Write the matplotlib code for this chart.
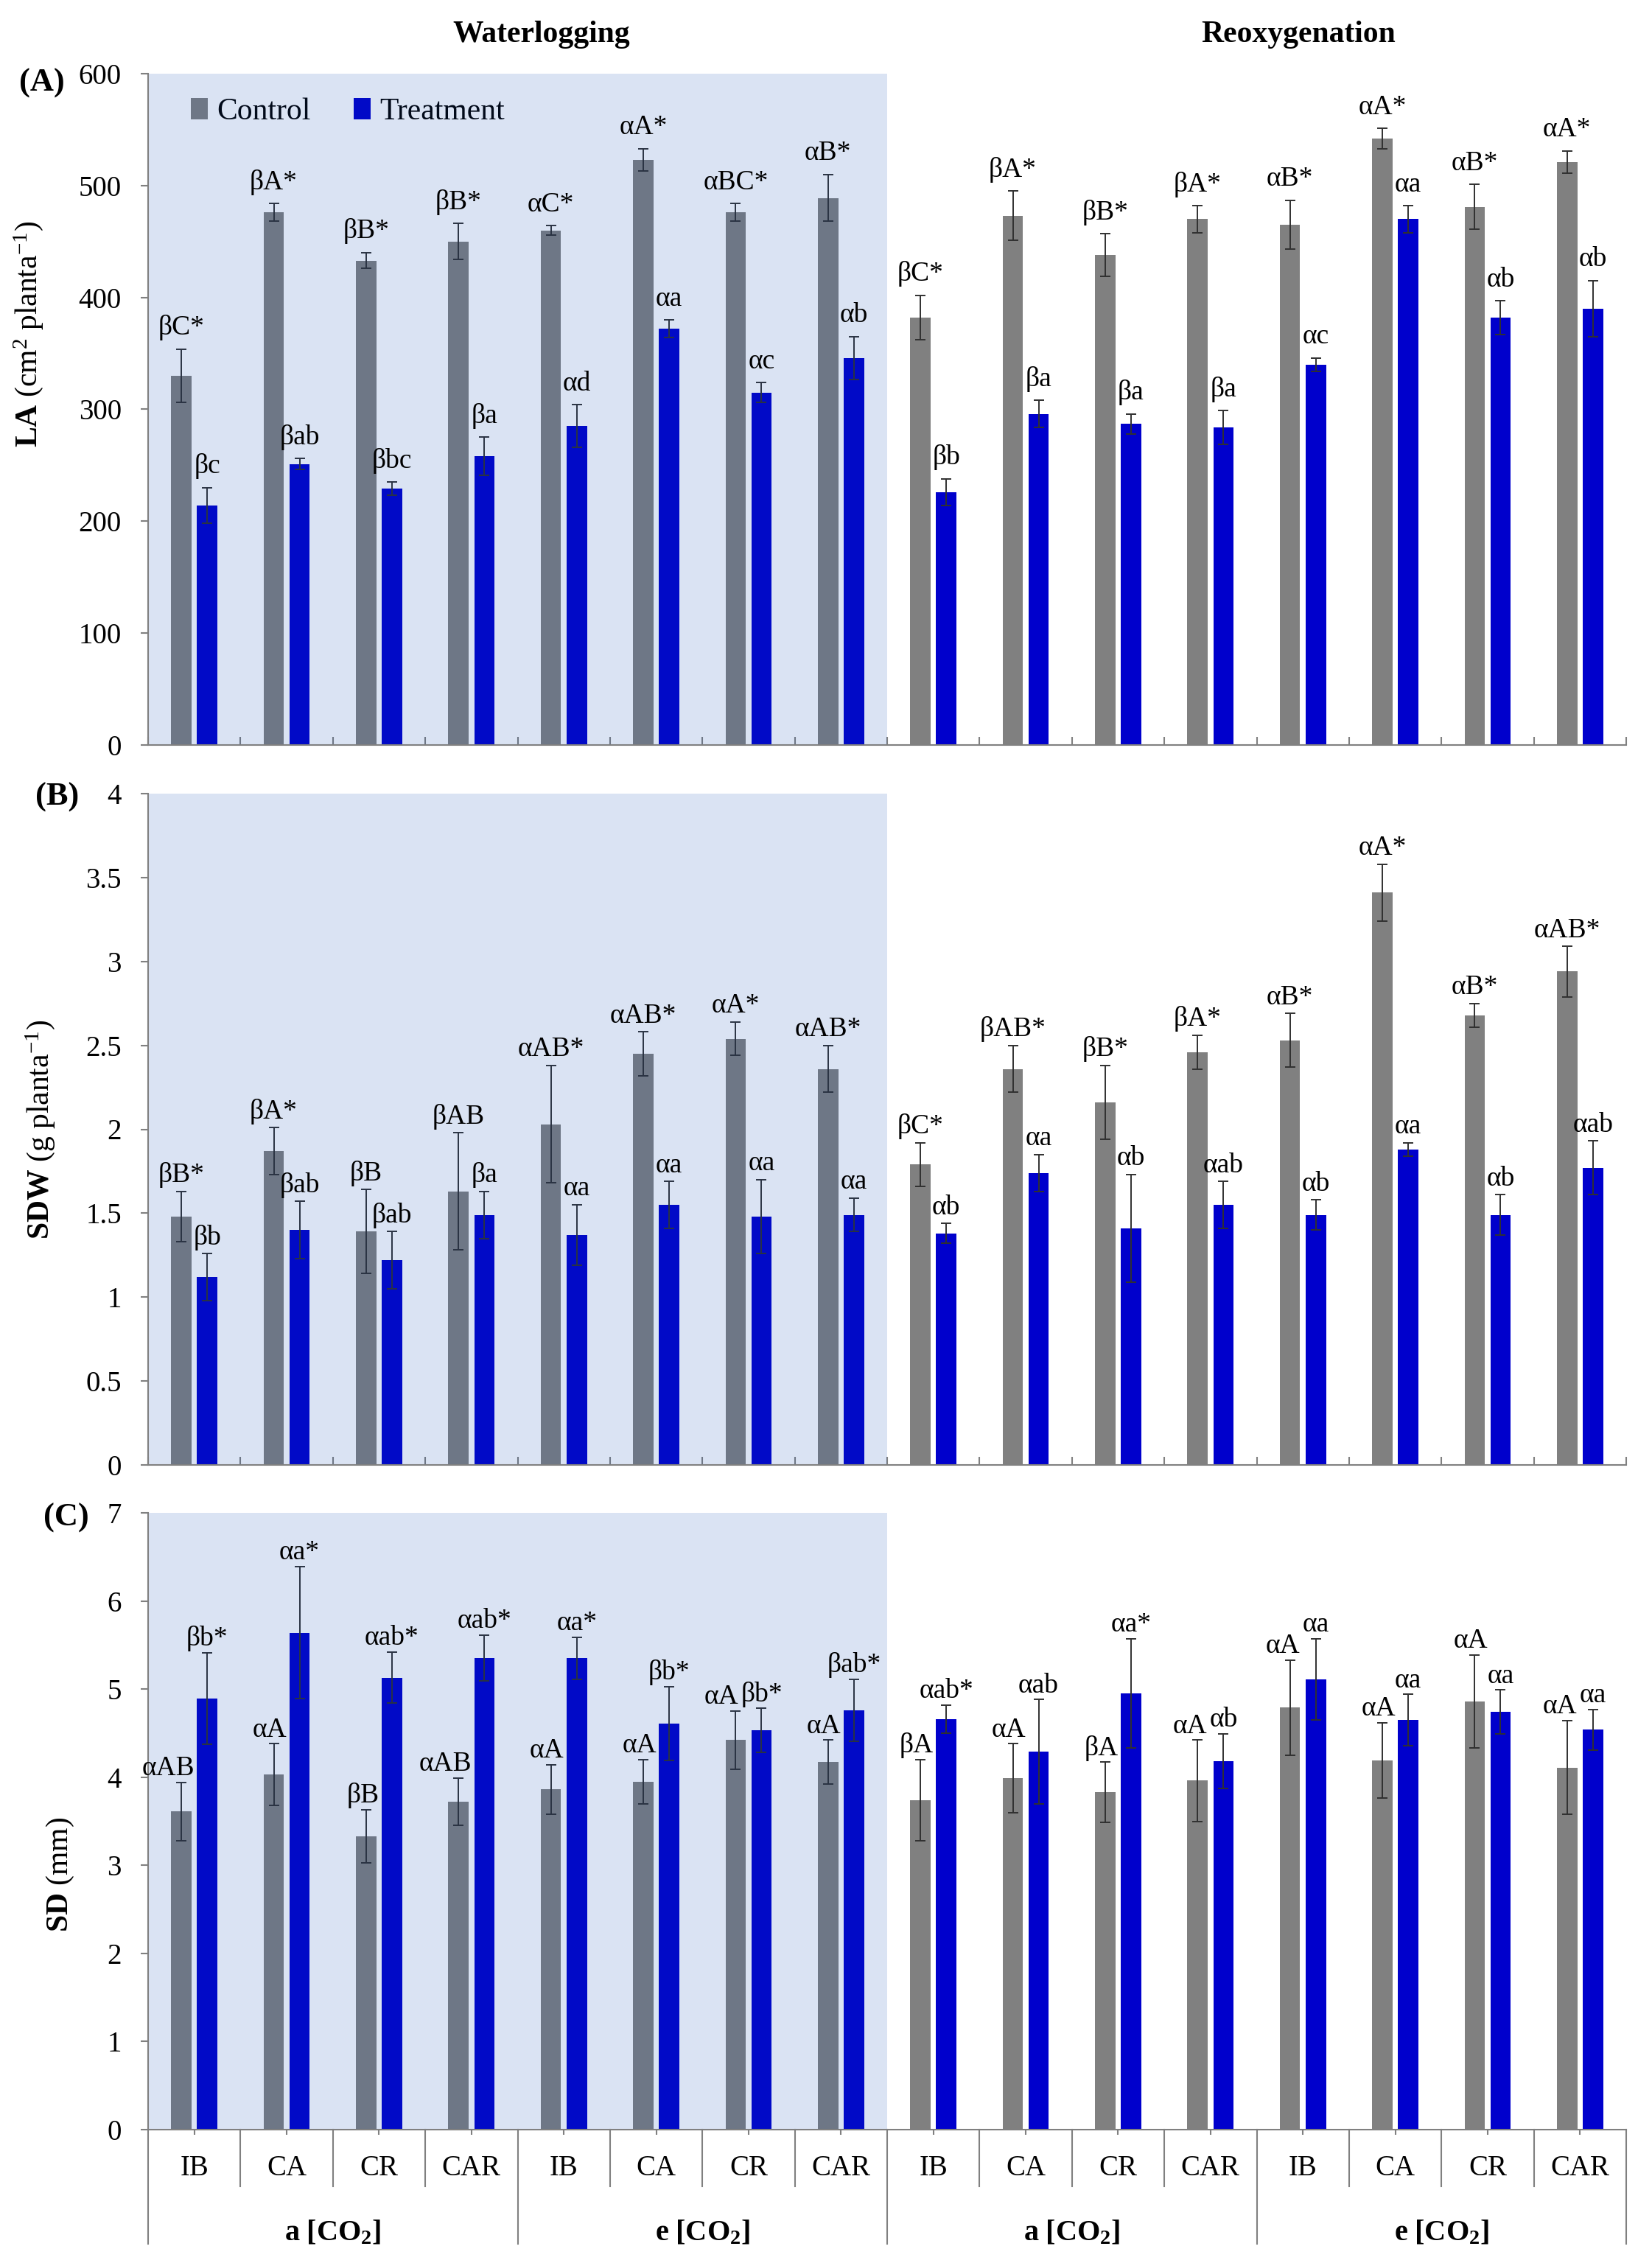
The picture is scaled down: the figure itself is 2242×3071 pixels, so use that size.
import numpy as np
import matplotlib
matplotlib.use('Agg')
import matplotlib.pyplot as plt
import matplotlib.transforms as mtransforms
from matplotlib.ticker import FuncFormatter

plt.rcParams['font.family'] = 'Liberation Serif'
plt.rcParams['mathtext.fontset'] = 'custom'
plt.rcParams['mathtext.rm'] = 'Liberation Serif'
plt.rcParams['mathtext.it'] = 'Liberation Serif:italic'
plt.rcParams['mathtext.bf'] = 'Liberation Serif:bold'

# order: Waterlogging a[CO2] IB CA CR CAR, e[CO2] IB CA CR CAR, then Reoxygenation same
categories = ['IB', 'CA', 'CR', 'CAR'] * 4
co2_labels = [r'$\mathbf{a\ [CO_2]}$', r'$\mathbf{e\ [CO_2]}$'] * 2
phases = ['Waterlogging', 'Reoxygenation']

# (A) LA
la_ctrl = [330, 476, 433, 450, 460, 523, 476, 489, 382, 473, 438, 470, 465, 542, 481, 521]
la_ctrl_err = [24, 8, 7, 16, 4, 10, 8, 21, 20, 22, 19, 12, 22, 9, 20, 10]
la_trt = [214, 251, 229, 258, 285, 372, 315, 346, 226, 296, 287, 284, 340, 470, 382, 390]
la_trt_err = [16, 5, 6, 17, 19, 8, 9, 19, 12, 12, 9, 15, 6, 12, 15, 25]
la_ctrl_lab = ['βC*', 'βA*', 'βB*', 'βB*', 'αC*', 'αA*', 'αBC*', 'αB*',
               'βC*', 'βA*', 'βB*', 'βA*', 'αB*', 'αA*', 'αB*', 'αA*']
la_trt_lab = ['βc', 'βab', 'βbc', 'βa', 'αd', 'αa', 'αc', 'αb',
              'βb', 'βa', 'βa', 'βa', 'αc', 'αa', 'αb', 'αb']

# (B) SDW
sdw_ctrl = [1.48, 1.87, 1.39, 1.63, 2.03, 2.45, 2.54, 2.36, 1.79, 2.36, 2.16, 2.46, 2.53, 3.41, 2.68, 2.94]
sdw_ctrl_err = [0.15, 0.14, 0.25, 0.35, 0.35, 0.13, 0.10, 0.14, 0.13, 0.14, 0.22, 0.10, 0.16, 0.17, 0.07, 0.15]
sdw_trt = [1.12, 1.40, 1.22, 1.49, 1.37, 1.55, 1.48, 1.49, 1.38, 1.74, 1.41, 1.55, 1.49, 1.88, 1.49, 1.77]
sdw_trt_err = [0.14, 0.17, 0.17, 0.14, 0.18, 0.14, 0.22, 0.10, 0.06, 0.11, 0.32, 0.14, 0.09, 0.04, 0.12, 0.16]
sdw_ctrl_lab = ['βB*', 'βA*', 'βB', 'βAB', 'αAB*', 'αAB*', 'αA*', 'αAB*',
                'βC*', 'βAB*', 'βB*', 'βA*', 'αB*', 'αA*', 'αB*', 'αAB*']
sdw_trt_lab = ['βb', 'βab', 'βab', 'βa', 'αa', 'αa', 'αa', 'αa',
               'αb', 'αa', 'αb', 'αab', 'αb', 'αa', 'αb', 'αab']

# (C) SD
sd_ctrl = [3.61, 4.03, 3.33, 3.72, 3.86, 3.95, 4.42, 4.17, 3.74, 3.99, 3.83, 3.96, 4.79, 4.19, 4.86, 4.11]
sd_ctrl_err = [0.33, 0.35, 0.30, 0.27, 0.28, 0.25, 0.33, 0.25, 0.46, 0.39, 0.34, 0.46, 0.54, 0.43, 0.53, 0.53]
sd_trt = [4.89, 5.64, 5.13, 5.35, 5.35, 4.61, 4.53, 4.76, 4.66, 4.29, 4.95, 4.18, 5.11, 4.65, 4.74, 4.54]
sd_trt_err = [0.52, 0.75, 0.29, 0.26, 0.24, 0.42, 0.25, 0.35, 0.16, 0.59, 0.62, 0.31, 0.46, 0.29, 0.25, 0.23]
sd_ctrl_lab = ['αAB', 'αA', 'βB', 'αAB', 'αA', 'αA', 'αA', 'αA',
               'βA', 'αA', 'βA', 'αA', 'αA', 'αA', 'αA', 'αA']
sd_trt_lab = ['βb*', 'αa*', 'αab*', 'αab*', 'αa*', 'βb*', 'βb*', 'βab*',
              'αab*', 'αab', 'αa*', 'αb', 'αa', 'αa', 'αa', 'αa']

W, H = 2242, 3071
fig = plt.figure(figsize=(W / 100, H / 100), dpi=100)

def px_axes(top_px, bottom_px):
    return fig.add_axes([201 / W, 1 - bottom_px / H, (2207 - 201) / W, (bottom_px - top_px) / H])

ax_a = px_axes(100, 1011)
ax_b = px_axes(1077, 1988)
ax_c = px_axes(2053, 2890)

x = np.arange(16) + 0.5
bw = 0.22
off = 0.14
gray = '#808080'
blue = '#0000cc'
axis_col = '#808080'
shade = (8 / 255, 68 / 255, 175 / 255)
label_pairs = []


def draw_panel(ax, ctrl, ctrl_err, trt, trt_err, ctrl_lab, trt_lab, ymax, ystep, pad, ctrl_right=False):
    ax.bar(x - off, ctrl, bw, color=gray, zorder=2, label='Control')
    ax.bar(x + off, trt, bw, color=blue, zorder=2, label='Treatment')
    for xs, ys, es in [(x - off, ctrl, ctrl_err), (x + off, trt, trt_err)]:
        ax.errorbar(xs, ys, yerr=es, fmt='none', ecolor='#303030', elinewidth=1.4,
                    capsize=5, capthick=1.4, zorder=2.2)
    ax.axvspan(0, 8, color=shade, alpha=0.15, lw=0, zorder=2.5)

    for i in range(16):
        if ctrl_right:
            a1 = ax.annotate(ctrl_lab[i], (x[i] - off + bw / 2, ctrl[i] + ctrl_err[i]), xytext=(3, pad),
                             textcoords='offset points', ha='right', va='baseline', fontsize=27, zorder=3)
        else:
            a1 = ax.annotate(ctrl_lab[i], (x[i] - off, ctrl[i] + ctrl_err[i]), xytext=(0, pad),
                             textcoords='offset points', ha='center', va='baseline', fontsize=27, zorder=3)
        a2 = ax.annotate(trt_lab[i], (x[i] + off, trt[i] + trt_err[i]), xytext=(0, pad),
                         textcoords='offset points', ha='center', va='baseline', fontsize=27, zorder=3)
        label_pairs.append((a1, a2))

    ax.set_xlim(0, 16)
    ax.set_ylim(0, ymax)
    ax.set_yticks(np.arange(0, ymax + ystep / 2, ystep))
    ax.yaxis.set_major_formatter(FuncFormatter(lambda v, p: f'{v:g}'))
    ax.tick_params(axis='y', direction='out', length=7, width=1.5, color=axis_col,
                   labelsize=28, pad=19)
    for s in ['top', 'right']:
        ax.spines[s].set_visible(False)
    for s in ['left', 'bottom']:
        ax.spines[s].set_color(axis_col)
        ax.spines[s].set_linewidth(1.5)


draw_panel(ax_a, la_ctrl, la_ctrl_err, la_trt, la_trt_err, la_ctrl_lab, la_trt_lab, 600, 100, 14)
draw_panel(ax_b, sdw_ctrl, sdw_ctrl_err, sdw_trt, sdw_trt_err, sdw_ctrl_lab, sdw_trt_lab, 4, 0.5, 9)
draw_panel(ax_c, sd_ctrl, sd_ctrl_err, sd_trt, sd_trt_err, sd_ctrl_lab, sd_trt_lab, 7, 1, 7, ctrl_right=True)

for ax in [ax_a, ax_b]:
    ax.set_xticks(np.arange(17))
    ax.set_xticklabels([])
    ax.tick_params(axis='x', direction='in', length=8, width=1.5, color=axis_col)

ax_c.set_xticks(x)
ax_c.set_xticklabels([])
ax_c.tick_params(axis='x', direction='out', length=5, width=1.5, color=axis_col)

# y labels
ax_a.set_ylabel(r'$\mathbf{LA}$ (cm$^2$ planta$^{-1}$)', fontsize=30)
ax_a.yaxis.set_label_coords(-0.0698, 0.612)
ax_b.set_ylabel(r'$\mathbf{SDW}$ (g planta$^{-1}$)', fontsize=30)
ax_b.yaxis.set_label_coords(-0.0618, 0.5)
ax_c.set_ylabel(r'$\mathbf{SD}$ (mm)', fontsize=30)
ax_c.yaxis.set_label_coords(-0.0489, 0.413)

# panel letters
fig.text(88 / W, 1 - 113 / H, '(A)', fontsize=32, fontweight='bold', ha='right', va='center')
fig.text(107 / W, 1 - 1082 / H, '(B)', fontsize=32, fontweight='bold', ha='right', va='center')
fig.text(121 / W, 1 - 2060 / H, '(C)', fontsize=32, fontweight='bold', ha='right', va='center')

# phase titles
fig.text(735 / W, 1 - 47 / H, phases[0], fontsize=30, fontweight='bold', ha='center', va='center')
fig.text(1762 / W, 1 - 47 / H, phases[1], fontsize=30, fontweight='bold', ha='center', va='center')

# legend
leg = ax_a.legend(ncol=2, loc='center left', bbox_to_anchor=(0.029, 0.943), frameon=False,
                  fontsize=30, handlelength=0.55, handleheight=0.7, handletextpad=0.3,
                  columnspacing=1.4, borderaxespad=0, borderpad=0)
leg.set_zorder(2.4)

# multi-level category axis under panel C
trans = mtransforms.blended_transform_factory(ax_c.transData, ax_c.transAxes)
for b in range(17):
    y_end = -0.185 if b % 4 == 0 else -0.092
    ax_c.plot([b, b], [0, y_end], transform=trans, color=axis_col, lw=1.5, clip_on=False)
for i in range(16):
    ax_c.text(x[i], -0.063, categories[i], transform=trans, ha='center', va='center', fontsize=28)
for k in range(4):
    ax_c.text(2 + 4 * k, -0.168, co2_labels[k], transform=trans, ha='center', va='center', fontsize=29)

# push a control label left when it runs into its treatment label
fig.canvas.draw()
renderer = fig.canvas.get_renderer()
for a1, a2 in label_pairs:
    b1 = a1.get_window_extent(renderer)
    b2 = a2.get_window_extent(renderer)
    if b1.overlaps(b2):
        shift_px = b1.x1 - b2.x0 + 3
        dx, dy = a1.xyann
        a1.xyann = (dx - shift_px * 72 / fig.dpi, dy)

plt.savefig('out.png', dpi=100)
